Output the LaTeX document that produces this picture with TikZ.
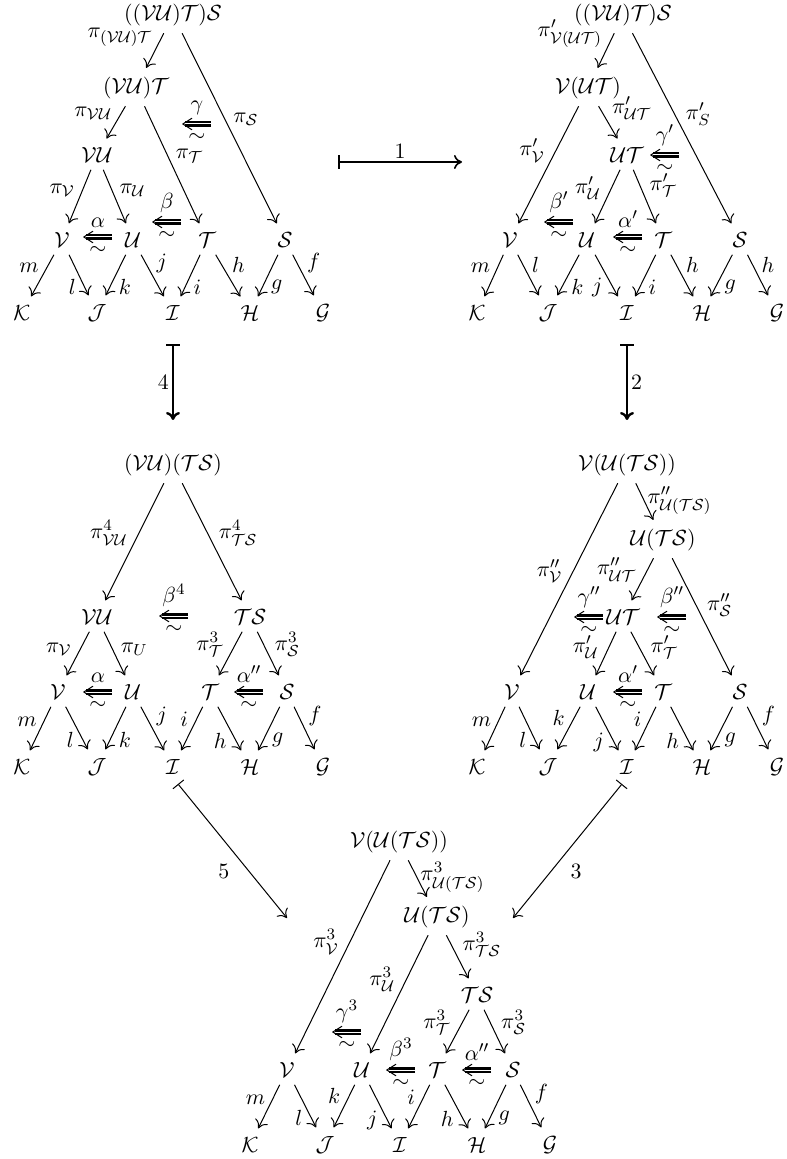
\documentclass[11pt,tikz,border=0pt]{standalone}
\usepackage{amsmath, amssymb}
\usepackage{tikz}
\usetikzlibrary{arrows.meta}
\newcommand{\cV}{\mathcal{V}}
\newcommand{\cU}{\mathcal{U}}
\newcommand{\cT}{\mathcal{T}}
\newcommand{\cS}{\mathcal{S}}
\newcommand{\cK}{\mathcal{K}}
\newcommand{\cJ}{\mathcal{J}}
\newcommand{\cI}{\mathcal{I}}
\newcommand{\cH}{\mathcal{H}}
\newcommand{\cG}{\mathcal{G}}
\tikzset{
  >={Computer Modern Rightarrow[length=4pt, width=7pt]},
  obj/.style={inner sep=3pt},
  lab/.style={inner sep=1.5pt},
  ar/.style={->, line width=0.5pt, shorten >=1.5pt, shorten <=0.5pt},
  mapsto/.style={{Bar[width=7pt]}->, line width=1pt},
  tc/.style={minimum width=15pt, minimum height=8.5pt, inner sep=0pt, label distance=-0.5pt,
    path picture={
      \draw[line width=1.2pt, double, double distance=0.5pt] ([xshift=-0.5pt]path picture bounding box.east) -- ([xshift=1.6pt]path picture bounding box.west);
      \draw[line width=0.5pt] ([shift={(5pt,2.9pt)}]path picture bounding box.west) -- ([xshift=0.4pt]path picture bounding box.west) -- ([shift={(5pt,-2.9pt)}]path picture bounding box.west);
    }}
}
\begin{document}
\begin{tikzpicture}[x=0.5pt, y=-0.5pt]
    \useasboundingbox (0,0) rectangle (786,1159);

    % diagram 1 (top left)
    \node[obj] (top1) at (173,15) {$((\cV\cU)\cT)\cS$};
    \node[obj] (VUT1) at (136,88) {$(\cV\cU)\cT$};
    \node[obj] (VU1) at (97,155) {$\cV\cU$};
    \node[obj] (V1) at (62,240) {$\cV$};
    \node[obj] (U1) at (133,240) {$\cU$};
    \node[obj] (T1) at (207,240) {$\cT$};
    \node[obj] (S1) at (285,240) {$\cS$};
    \node[obj] (K1) at (22,313) {$\cK$};
    \node[obj] (J1) at (97,313) {$\cJ$};
    \node[obj] (I1) at (173,313) {$\cI$};
    \node[obj] (H1) at (250,313) {$\cH$};
    \node[obj] (G1) at (323,313) {$\cG$};
    \node[tc, label={[inner sep=0pt]above:$\gamma$}, label={[inner sep=0pt]below:$\sim$}] (ga1) at (197,124) {};
    \node[tc, label={[inner sep=0pt]above:$\beta$}, label={[inner sep=0pt]below:$\sim$}] (be1) at (167,222) {};
    \node[tc, label={[inner sep=0pt]above:$\alpha$}, label={[inner sep=0pt]below:$\sim$}] (al1) at (98,237) {};

    \draw[ar] (top1) -- node[lab, above left, pos=.45] {$\pi_{(\cV\cU)\cT}$} (VUT1);
    \draw[ar] (top1) -- node[lab, above right, pos=.5] {$\pi_{\cS}$} (S1);
    \draw[ar] (VUT1) -- node[lab, above left, pos=.5] {$\pi_{\cV\cU}$} (VU1);
    \draw[ar] (VUT1) -- node[lab, above right, pos=.5] {$\pi_{\cT}$} (T1);
    \draw[ar] (VU1) -- node[lab, above left, pos=.55] {$\pi_{\cV}$} (V1);
    \draw[ar] (VU1) -- node[lab, above right, pos=.55] {$\pi_{\cU}$} (U1);
    \draw[ar] (V1) -- node[lab, above left, pos=.5] {$m$} (K1);
    \draw[ar] (V1) -- node[lab, below left, pos=.5] {$l$} (J1);
    \draw[ar] (U1) -- node[lab, below right, pos=.5] {$k$} (J1);
    \draw[ar] (U1) -- node[lab, above right, pos=.5] {$j$} (I1);
    \draw[ar] (T1) -- node[lab, below right, pos=.5] {$i$} (I1);
    \draw[ar] (T1) -- node[lab, above right, pos=.5] {$h$} (H1);
    \draw[ar] (S1) -- node[lab, below right, pos=.5] {$g$} (H1);
    \draw[ar] (S1) -- node[lab, above right, pos=.5] {$f$} (G1);

    % diagram 2 (top right)
    \node[obj] (top2) at (623,15) {$((\cV\cU)\cT)\cS$};
    \node[obj] (VUT2) at (588,88) {$\cV(\cU\cT)$};
    \node[obj] (UT2) at (627,155) {$\cU\cT$};
    \node[obj] (V2) at (510,240) {$\cV$};
    \node[obj] (U2) at (587,240) {$\cU$};
    \node[obj] (T2) at (663,240) {$\cT$};
    \node[obj] (S2) at (740,240) {$\cS$};
    \node[obj] (K2) at (477,313) {$\cK$};
    \node[obj] (J2) at (548,313) {$\cJ$};
    \node[obj] (I2) at (627,313) {$\cI$};
    \node[obj] (H2) at (702,313) {$\cH$};
    \node[obj] (G2) at (777,313) {$\cG$};
    \node[tc, label={[inner sep=0pt]above:$\gamma'$}, label={[inner sep=0pt]below:$\sim$}] (ga2) at (665,155) {};
    \node[tc, label={[inner sep=0pt]above:$\beta'$}, label={[inner sep=0pt]below:$\sim$}] (be2) at (559,222) {};
    \node[tc, label={[inner sep=0pt]above:$\alpha'$}, label={[inner sep=0pt]below:$\sim$}] (al2) at (628,237) {};

    \draw[ar] (top2) -- node[lab, above left, pos=.5] {$\pi'_{\cV(\cU\cT)}$} (VUT2);
    \draw[ar] (top2) -- node[lab, above right, pos=.5] {$\pi'_{S}$} (S2);
    \draw[ar] (VUT2) -- node[lab, above left, pos=.5] {$\pi'_{\cV}$} (V2);
    \draw[ar] (VUT2) -- node[lab, above right, pos=.5] {$\pi'_{\cU\cT}$} (UT2);
    \draw[ar] (UT2) -- node[lab, above left, pos=.6] {$\pi'_{\cU}$} (U2);
    \draw[ar] (UT2) -- node[lab, above right, pos=.55] {$\pi'_{\cT}$} (T2);
    \draw[ar] (V2) -- node[lab, above left, pos=.5] {$m$} (K2);
    \draw[ar] (V2) -- node[lab, above right, pos=.5] {$l$} (J2);
    \draw[ar] (U2) -- node[lab, below right, pos=.5] {$k$} (J2);
    \draw[ar] (U2) -- node[lab, below left, pos=.45] {$j$} (I2);
    \draw[ar] (T2) -- node[lab, below right, pos=.5] {$i$} (I2);
    \draw[ar] (T2) -- node[lab, above right, pos=.5] {$h$} (H2);
    \draw[ar] (S2) -- node[lab, below right, pos=.5] {$g$} (H2);
    \draw[ar] (S2) -- node[lab, above right, pos=.5] {$h$} (G2);

    % diagram 3 (middle left)
    \node[obj] (top3) at (173,465) {$(\cV\cU)(\cT\cS)$};
    \node[obj] (VU3) at (97,617) {$\cV\cU$};
    \node[obj] (TS3) at (250,617) {$\cT\cS$};
    \node[obj] (V3) at (58,692) {$\cV$};
    \node[obj] (U3) at (133,692) {$\cU$};
    \node[obj] (T3) at (210,692) {$\cT$};
    \node[obj] (S3) at (287,692) {$\cS$};
    \node[obj] (K3) at (22,767) {$\cK$};
    \node[obj] (J3) at (97,767) {$\cJ$};
    \node[obj] (I3) at (173,767) {$\cI$};
    \node[obj] (H3) at (250,767) {$\cH$};
    \node[obj] (G3) at (323,767) {$\cG$};
    \node[tc, label={[inner sep=0pt]above:$\beta^4$}, label={[inner sep=0pt]below:$\sim$}] (be3) at (174,616) {};
    \node[tc, label={[inner sep=0pt]above:$\alpha$}, label={[inner sep=0pt]below:$\sim$}] (al3) at (98,692) {};
    \node[tc, label={[inner sep=0pt]above:$\alpha''$}, label={[inner sep=0pt]below:$\sim$}] (alb3) at (249,692) {};

    \draw[ar] (top3) -- node[lab, above left, pos=.55] {$\pi^4_{\cV\cU}$} (VU3);
    \draw[ar] (top3) -- node[lab, above right, pos=.55] {$\pi^4_{\cT\cS}$} (TS3);
    \draw[ar] (VU3) -- node[lab, above left, pos=.6] {$\pi_{\cV}$} (V3);
    \draw[ar] (VU3) -- node[lab, above right, pos=.6] {$\pi_{U}$} (U3);
    \draw[ar] (TS3) -- node[lab, above left, pos=.62] {$\pi^3_{\cT}$} (T3);
    \draw[ar] (TS3) -- node[lab, above right, pos=.62] {$\pi^3_{\cS}$} (S3);
    \draw[ar] (V3) -- node[lab, above left, pos=.5] {$m$} (K3);
    \draw[ar] (V3) -- node[lab, below left, pos=.5] {$l$} (J3);
    \draw[ar] (U3) -- node[lab, below right, pos=.5] {$k$} (J3);
    \draw[ar] (U3) -- node[lab, above right, pos=.5] {$j$} (I3);
    \draw[ar] (T3) -- node[lab, above left, pos=.5] {$i$} (I3);
    \draw[ar] (T3) -- node[lab, below left, pos=.5] {$h$} (H3);
    \draw[ar] (S3) -- node[lab, below right, pos=.5] {$g$} (H3);
    \draw[ar] (S3) -- node[lab, above right, pos=.5] {$f$} (G3);

    % diagram 4 (middle right)
    \node[obj] (top4) at (627,465) {$\cV(\cU(\cT\cS))$};
    \node[obj] (UTS4) at (663,540) {$\cU(\cT\cS)$};
    \node[obj] (UT4) at (623,617) {$\cU\cT$};
    \node[obj] (V4) at (512,692) {$\cV$};
    \node[obj] (U4) at (588,692) {$\cU$};
    \node[obj] (T4) at (663,692) {$\cT$};
    \node[obj] (S4) at (740,692) {$\cS$};
    \node[obj] (K4) at (477,767) {$\cK$};
    \node[obj] (J4) at (548,767) {$\cJ$};
    \node[obj] (I4) at (627,767) {$\cI$};
    \node[obj] (H4) at (702,767) {$\cH$};
    \node[obj] (G4) at (777,767) {$\cG$};
    \node[tc, label={[inner sep=0pt]above:$\gamma''$}, label={[inner sep=0pt]below:$\sim$}] (ga4) at (589,617) {};
    \node[tc, label={[inner sep=0pt]above:$\beta''$}, label={[inner sep=0pt]below:$\sim$}] (be4) at (672,617) {};
    \node[tc, label={[inner sep=0pt]above:$\alpha'$}, label={[inner sep=0pt]below:$\sim$}] (al4) at (628,692) {};

    \draw[ar] (top4) -- node[lab, above left, pos=.53] {$\pi''_{\cV}$} (V4);
    \draw[ar] (top4) -- node[lab, right, pos=.45] {$\pi''_{\cU(\cT\cS)}$} (UTS4);
    \draw[ar] (UTS4) -- node[lab, above left, pos=.6] {$\pi''_{\cU\cT}$} (UT4);
    \draw[ar] (UTS4) -- node[lab, above right, pos=.52] {$\pi''_{\cS}$} (S4);
    \draw[ar] (UT4) -- node[lab, above left, pos=.66] {$\pi'_{\cU}$} (U4);
    \draw[ar] (UT4) -- node[lab, above right, pos=.66] {$\pi'_{\cT}$} (T4);
    \draw[ar] (V4) -- node[lab, above left, pos=.5] {$m$} (K4);
    \draw[ar] (V4) -- node[lab, below left, pos=.5] {$l$} (J4);
    \draw[ar] (U4) -- node[lab, above left, pos=.5] {$k$} (J4);
    \draw[ar] (U4) -- node[lab, below left, pos=.5] {$j$} (I4);
    \draw[ar] (T4) -- node[lab, above left, pos=.5] {$i$} (I4);
    \draw[ar] (T4) -- node[lab, below left, pos=.5] {$h$} (H4);
    \draw[ar] (S4) -- node[lab, below right, pos=.5] {$g$} (H4);
    \draw[ar] (S4) -- node[lab, above right, pos=.5] {$f$} (G4);

    % diagram 5 (bottom)
    \node[obj] (top5) at (399,842) {$\cV(\cU(\cT\cS))$};
    \node[obj] (UTS5) at (437,917) {$\cU(\cT\cS)$};
    \node[obj] (TS5) at (477,995) {$\cT\cS$};
    \node[obj] (V5) at (287,1070) {$\cV$};
    \node[obj] (U5) at (362,1070) {$\cU$};
    \node[obj] (T5) at (437,1070) {$\cT$};
    \node[obj] (S5) at (513,1070) {$\cS$};
    \node[obj] (K5) at (250,1145) {$\cK$};
    \node[obj] (J5) at (325,1145) {$\cJ$};
    \node[obj] (I5) at (400,1145) {$\cI$};
    \node[obj] (H5) at (477,1145) {$\cH$};
    \node[obj] (G5) at (550,1145) {$\cG$};
    \node[tc, label={[inner sep=0pt]above:$\gamma^3$}, label={[inner sep=0pt]below:$\sim$}] (ga5) at (347,1032) {};
    \node[tc, label={[inner sep=0pt]above:$\beta^3$}, label={[inner sep=0pt]below:$\sim$}] (be5) at (401,1070) {};
    \node[tc, label={[inner sep=0pt]above:$\alpha''$}, label={[inner sep=0pt]below:$\sim$}] (al5) at (477,1070) {};

    \draw[ar] (top5) -- node[lab, above left, pos=.5] {$\pi^3_{\cV}$} (V5);
    \draw[ar] (top5) -- node[lab, right, pos=.45] {$\pi^3_{\cU(\cT\cS)}$} (UTS5);
    \draw[ar] (UTS5) -- node[lab, above left, pos=.5] {$\pi^3_{\cU}$} (U5);
    \draw[ar] (UTS5) -- node[lab, above right, pos=.55] {$\pi^3_{\cT\cS}$} (TS5);
    \draw[ar] (TS5) -- node[lab, above left, pos=.62] {$\pi^3_{\cT}$} (T5);
    \draw[ar] (TS5) -- node[lab, above right, pos=.62] {$\pi^3_{\cS}$} (S5);
    \draw[ar] (V5) -- node[lab, above left, pos=.5] {$m$} (K5);
    \draw[ar] (V5) -- node[lab, below left, pos=.5] {$l$} (J5);
    \draw[ar] (U5) -- node[lab, above left, pos=.5] {$k$} (J5);
    \draw[ar] (U5) -- node[lab, below left, pos=.5] {$j$} (I5);
    \draw[ar] (T5) -- node[lab, above left, pos=.5] {$i$} (I5);
    \draw[ar] (T5) -- node[lab, below left, pos=.5] {$h$} (H5);
    \draw[ar] (S5) -- node[lab, below right, pos=.5] {$g$} (H5);
    \draw[ar] (S5) -- node[lab, above right, pos=.5] {$f$} (G5);

    % arrows between the diagrams
    \coordinate (m1s) at (338,162);
    \coordinate (m1e) at (462,162);
    \coordinate (m4s) at (173,344);
    \coordinate (m4e) at (173,420);
    \coordinate (m2s) at (627,344);
    \coordinate (m2e) at (627,420);
    \coordinate (m5s) at (178,784);
    \coordinate (m5e) at (287,918);
    \coordinate (m3s) at (622,784);
    \coordinate (m3e) at (513,918);
    \draw[mapsto, line width=0.8pt] (m1s) -- node[lab, above] {$1$} (m1e);
    \draw[mapsto, line width=1.2pt] (m4s) -- node[lab, left] {$4$} (m4e);
    \draw[mapsto, line width=1.2pt] (m2s) -- node[lab, right] {$2$} (m2e);
    \draw[mapsto, line width=0.5pt] (m5s) -- node[lab, left=8pt, pos=.65] {$5$} (m5e);
    \draw[mapsto, line width=0.5pt] (m3s) -- node[lab, right=8pt, pos=.65] {$3$} (m3e);
\end{tikzpicture}
\end{document}
